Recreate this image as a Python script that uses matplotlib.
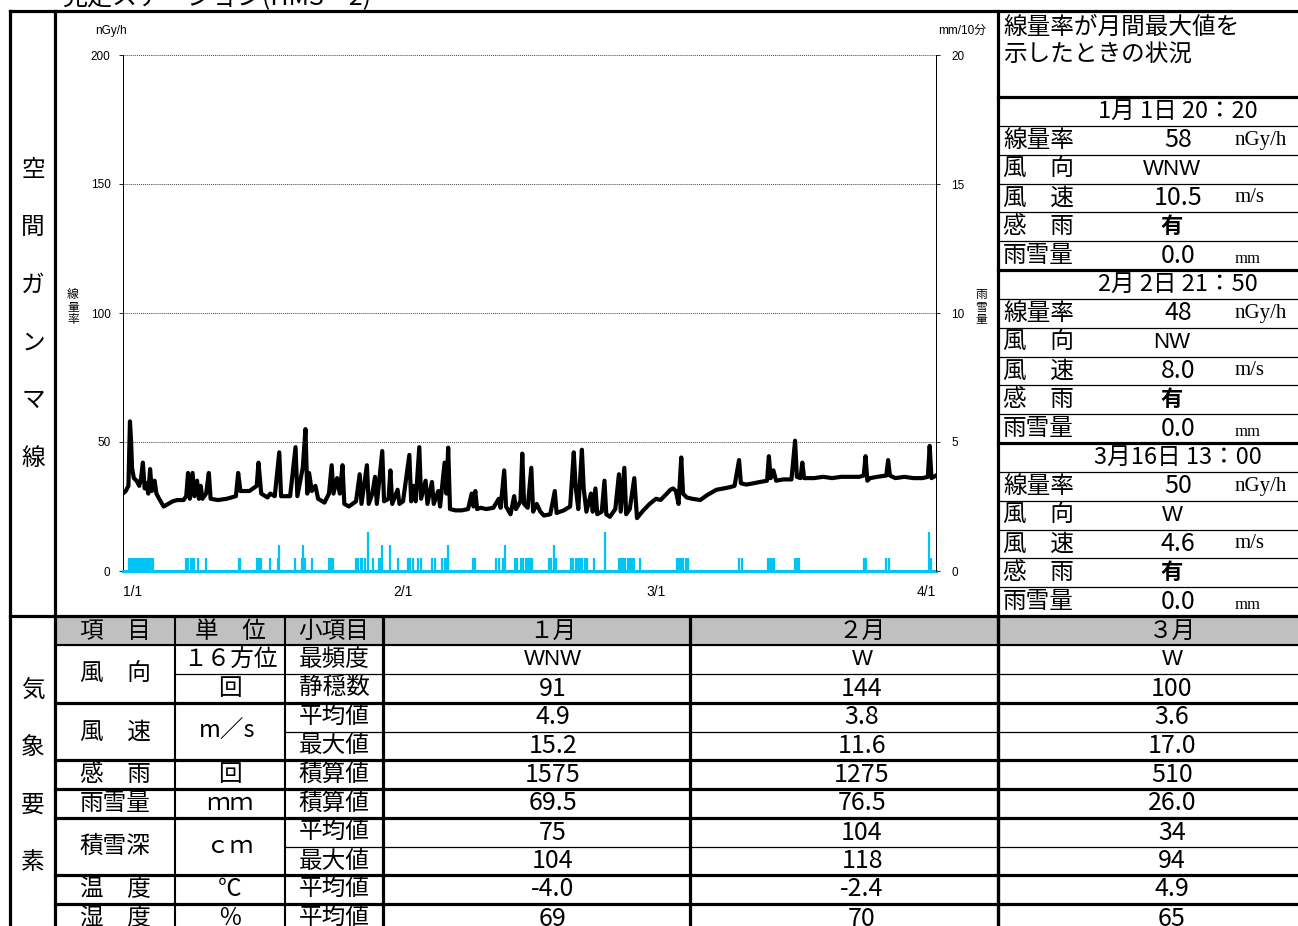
import matplotlib
matplotlib.use('Agg')
import matplotlib.pyplot as plt
from matplotlib.patches import Rectangle

plt.rcParams['font.family'] = ['Noto Sans CJK JP', 'DejaVu Sans']

W, H = 1298, 926
CYAN = '#00c4f4'
NUM = ['Liberation Sans Narrow', 'Noto Sans CJK JP']
LAT = ['Liberation Sans', 'Noto Sans CJK JP']

# 線量率 (日: 1/1 00:00 からの経過日数, nGy/h)
dose_day = [
    0.0, 0.3, 0.6, 0.77, 0.9, 1.0, 1.2, 1.5, 1.8, 2.0, 2.2, 2.4, 2.6, 2.8, 3.0, 3.2, 3.5, 3.7,
    4.0, 4.5, 5.0, 5.5, 6.0, 6.7, 7.0, 7.2, 7.4, 7.7, 7.9, 8.2, 8.4, 8.6, 8.8, 9.2, 9.5, 9.7,
    10.5, 11.5, 12.5, 12.75, 13.0, 14.0, 14.8, 15.0, 15.3, 16.0, 16.3, 16.8, 17.3, 17.5, 18.5,
    19.1, 19.3, 19.9, 20.2, 20.4, 20.6, 20.9, 21.3, 21.6, 22.3, 22.8, 23.1, 23.3, 23.7, 24.0,
    24.3, 24.5, 25.0, 25.8, 26.2, 26.4, 27.0, 27.2, 27.6, 27.9, 28.1, 28.7, 28.9, 29.4, 29.6,
    29.8, 30.4, 30.6, 31.0,
    31.7, 31.9, 32.2, 32.4, 32.8, 33.0, 33.5, 33.7, 34.2, 34.4, 34.9, 35.1, 35.6, 35.8, 36.0,
    36.2, 36.8, 37.5, 38.2, 38.6, 38.8, 39.0, 39.2, 39.6, 40.2, 41.0, 41.6, 41.8, 42.2, 42.4,
    42.9, 43.3, 43.5, 44.0, 44.2, 44.4, 44.8, 45.2, 45.4, 45.8, 46.2, 46.6, 47.3, 47.8, 48.0,
    48.8, 49.5, 49.9, 50.1, 50.4, 50.8, 51.0, 51.3, 51.8, 52.0, 52.3, 52.5, 53.0, 53.3, 53.5,
    53.9, 54.5, 54.9, 55.1, 55.5, 55.7, 56.1, 56.6, 56.9, 57.6, 58.3, 59.0,
    59.5, 60.2, 60.6, 60.9, 61.2, 61.5, 61.8, 62.0, 62.4, 63.0, 63.9, 64.7, 65.7, 66.5, 67.2,
    67.7, 68.2, 68.4, 69.0, 69.8, 70.5, 71.3, 71.5, 71.7, 72.0, 72.3, 73.1, 74.0, 74.4, 74.6,
    75.0, 75.2, 75.4, 76.5, 77.5, 78.5, 79.5, 80.5, 81.5, 82.0, 82.2, 82.4, 82.7, 83.5, 84.5,
    84.7, 84.9, 85.5, 86.5, 87.5, 88.5, 89.1, 89.3, 89.5, 90.0,
]
dose_val = [
    30, 31, 33, 58, 50, 40, 36, 35, 33, 36, 42, 32, 34, 30, 39.5, 31, 35, 30,
    28, 25, 26, 27, 27.5, 27.5, 29, 38, 28, 38, 29, 35, 28, 33, 28, 30, 38, 28,
    27.5, 28, 29, 38, 31, 31, 33, 42, 30, 28.5, 30, 29, 46, 29, 29,
    48, 29, 40, 55, 30, 38, 31, 33, 28, 26.5, 30, 41, 30, 36, 30,
    41, 26, 25, 27, 37.5, 26, 41, 26, 30, 36.5, 26, 46.5, 27, 28, 39,
    26, 31.5, 26, 27,
    45, 27, 33, 27, 48, 28, 35, 26, 34.5, 26, 31, 25, 42, 30, 47.8,
    24, 23.5, 23.5, 24, 30, 25, 31, 24, 24.5, 24, 24.5, 28, 24.5, 39, 25,
    22, 29, 24, 27, 45.5, 26, 24.5, 40, 23, 26, 23, 21.5, 22, 31, 22.5,
    23.5, 25, 46, 33, 24, 47, 32, 23, 30, 23, 32, 22, 23, 35, 22,
    21, 24, 37.5, 23, 40, 22, 24, 36, 20.5, 23.5, 26, 28,
    27.5, 30, 31.5, 32, 31, 26, 44, 30, 28.5, 28, 27.5, 29.5, 31.5, 32, 32.5,
    33, 43, 34, 33.5, 34, 34.5, 35, 44.5, 36, 39, 35, 35.5, 35.5, 50.5, 36.5,
    36, 42, 36, 36, 36.5, 36, 36.5, 36.5, 36.5, 37, 44.5, 35, 36, 36.5, 37,
    43, 37, 36, 36.5, 36, 36, 36.5, 48.5, 36, 37,
]

# 雨雪量 (日, mm/10分)
rain_day = [
    0.7, 0.9, 1.1, 1.3, 1.5, 1.7, 1.9, 2.1, 2.3, 2.5, 2.7, 2.9, 3.1, 3.3,
    7.0, 7.2, 7.5, 7.7, 7.9, 8.3, 9.2, 12.8, 12.9,
    14.8, 15.0, 15.3, 16.3, 17.2, 17.3, 19.0, 19.8, 19.9, 20.1, 20.9, 22.8, 23.0, 23.3,
    25.8, 26.0, 26.3, 26.5, 26.8, 27.1, 27.7, 28.3, 28.5, 28.7, 29.6, 30.4,
    31.6, 31.8, 32.1, 32.7, 33.0, 34.2, 34.5, 35.3, 35.6, 35.8, 36.0,
    38.7, 39.0, 41.3, 41.6, 42.1, 42.3, 43.4, 43.6, 44.1, 44.3, 44.6, 44.8, 45.1, 45.3,
    47.2, 47.4, 47.7, 47.9, 49.6, 49.8, 50.1, 50.4, 50.6, 50.8, 51.1, 51.4, 52.1, 53.4,
    54.9, 55.1, 55.4, 55.6, 55.9, 56.1, 56.4, 56.6, 57.2,
    61.3, 61.5, 61.8, 62.0, 62.3, 62.5, 68.2, 68.5, 71.4, 71.6, 71.9, 72.1,
    74.4, 74.6, 74.8, 82.0, 82.3, 84.5, 84.8, 89.2, 89.4,
]
rain_mm = [
    0.5, 0.5, 0.5, 0.5, 0.5, 0.5, 0.5, 0.5, 0.5, 0.5, 0.5, 0.5, 0.5, 0.5,
    0.5, 0.5, 0.5, 0.5, 0.5, 0.5, 0.5, 0.5, 0.5,
    0.5, 0.5, 0.5, 0.5, 0.5, 1.0, 0.5, 0.5, 1.0, 0.5, 0.5, 0.5, 0.5, 0.5,
    0.5, 0.5, 0.5, 0.5, 0.5, 1.5, 0.5, 0.5, 0.5, 1.0, 1.0, 0.5,
    0.5, 0.5, 0.5, 0.5, 0.5, 0.5, 0.5, 0.5, 0.5, 0.5, 1.0,
    0.5, 0.5, 0.5, 0.5, 0.5, 1.0, 0.5, 0.5, 0.5, 0.5, 0.5, 0.5, 0.5, 0.5,
    0.5, 0.5, 1.0, 0.5, 0.5, 0.5, 0.5, 0.5, 0.5, 0.5, 0.5, 0.5, 0.5, 1.5,
    0.5, 0.5, 0.5, 0.5, 0.5, 0.5, 0.5, 0.5, 0.5,
    0.5, 0.5, 0.5, 0.5, 0.5, 0.5, 0.5, 0.5, 0.5, 0.5, 0.5, 0.5,
    0.5, 0.5, 0.5, 0.5, 0.5, 0.5, 0.5, 1.5, 0.5,
]

x_ticks = [0, 31, 59, 90]
x_labels = ['1/1', '2/1', '3/1', '4/1']
dose_ticks = [0, 50, 100, 150, 200]
rain_ticks = [0, 5, 10, 15, 20]

# 線量率が月間最大値を示したときの状況
peak_time = ['1月 1日 20：20', '2月 2日 21：50', '3月16日 13：00']
peak_rate = ['58', '48', '50']
peak_dir = ['WNW', 'NW', 'W']
peak_speed = ['10.5', '8.0', '4.6']
peak_rain = ['有', '有', '有']
peak_precip = ['0.0', '0.0', '0.0']

# 気象要素
months = ['１月', '２月', '３月']
wind_dir = ['WNW', 'W', 'W']
calm = ['91', '144', '100']
wind_mean = ['4.9', '3.8', '3.6']
wind_max = ['15.2', '11.6', '17.0']
rain_count = ['1575', '1275', '510']
precip_sum = ['69.5', '76.5', '26.0']
snow_mean = ['75', '104', '34']
snow_max = ['104', '118', '94']
temp_mean = ['-4.0', '-2.4', '4.9']
humid_mean = ['69', '70', '65']

fig = plt.figure(figsize=(W / 100, H / 100), dpi=100)
base = fig.add_axes([0, 0, 1, 1])
base.set_xlim(0, W)
base.set_ylim(H, 0)
base.axis('off')

THICK, THIN = 2.3, 0.9


def line(x0, y0, x1, y1, lw=THIN):
    base.plot([x0, x1], [y0, y1], color='black', lw=lw, solid_capstyle='projecting')


def txt(x, y, s, size=17, ha='center', family=None, **kw):
    base.text(x, y, s, fontsize=size, ha=ha, va='center', family=family, **kw)


# タイトル (上端で切れている)
base.text(62, 5, '見走ステーション(HMS－2)', fontsize=18, va='baseline')

# 外枠
line(10, 11, W, 11, THICK)
line(10, 11, 10, H, THICK)
line(55, 11, 55, H, THICK)
line(998, 11, 998, H, THICK)
line(10, 616, W, 616, THICK)

# 左列の縦書き
for i, ch in enumerate('空間ガンマ線'):
    txt(33, 170 + i * 57.6, ch, size=17)
for i, ch in enumerate('気象要素'):
    txt(33, 690 + i * 57.5, ch, size=17)

# 右側パネル
txt(1003, 27, '線量率が月間最大値を', size=17, ha='left')
txt(1003, 55, '示したときの状況', size=17, ha='left')
top, rh = 97, (616 - 97) / 18
for i in range(18):
    y = top + i * rh
    line(998, y, W, y, THICK if i % 6 == 0 else THIN)
for k in range(3):
    y0 = top + k * 6 * rh
    c = lambda j: y0 + (j + 0.5) * rh
    txt(1178, c(0), peak_time[k], size=17)
    txt(1003, c(1), '線量率', size=17, ha='left')
    txt(1003, c(2), '風　向', size=17, ha='left')
    txt(1003, c(3), '風　速', size=17, ha='left')
    txt(1003, c(4), '感　雨', size=17, ha='left')
    txt(1003, c(5), '雨雪量', size=17, ha='left')
    txt(1178, c(1), peak_rate[k], size=18, family=NUM)
    txt(1172, c(2), peak_dir[k], size=16, family=LAT)
    txt(1178, c(3), peak_speed[k], size=18, family=NUM)
    txt(1172, c(4), peak_rain[k], size=16, weight='bold')
    txt(1178, c(5), peak_precip[k], size=18, family=NUM)
    txt(1235, c(1), 'nGy/h', size=15, ha='left', family='Liberation Serif')
    txt(1235, c(3), 'm/s', size=15, ha='left', family='Liberation Serif')
    txt(1235, c(5) + 3, 'mm', size=12, ha='left', family='Liberation Serif')

# 気象要素の表
ry = [617, 645, 674, 703, 732, 760, 789, 818, 847, 875, 904, 933]
base.add_patch(Rectangle((56, ry[0]), W - 56, ry[1] - ry[0], color='#c0c0c0', zorder=0))
cols = [55, 175, 285, 383, 690, 998]
for x in cols[1:]:
    line(x, 617, x, H, THICK if x in (383, 690, 998) else 1.5)
line(55, ry[1], W, ry[1], 1.5)
for i in range(2, 11):
    y = ry[i]
    if i in (2,):
        line(175, y, W, y, THIN)
    elif i in (4, 8):
        line(285, y, W, y, THIN)
    else:
        line(55, y, W, y, THICK)

ycen = [(ry[i] + ry[i + 1]) / 2 for i in range(11)]
hdr = ['項　目', '単　位', '小項目']
for x, s in zip([115, 230, 334], hdr):
    txt(x, ycen[0], s, size=17)
val_x = [553, 862, 1172]
for x, s in zip(val_x, months):
    txt(x, ycen[0], s, size=17)

txt(115, (ycen[1] + ycen[2]) / 2, '風　向', size=17)
txt(115, (ycen[3] + ycen[4]) / 2, '風　速', size=17)
txt(115, ycen[5], '感　雨', size=17)
txt(115, ycen[6], '雨雪量', size=17)
txt(115, (ycen[7] + ycen[8]) / 2, '積雪深', size=17)
txt(115, ycen[9], '温　度', size=17)
txt(115, ycen[10], '湿　度', size=17)

txt(230, ycen[1], '１６方位', size=17)
txt(230, ycen[2], '回', size=17)
txt(227, (ycen[3] + ycen[4]) / 2, 'm／s', size=17)
txt(230, ycen[5], '回', size=17)
txt(230, ycen[6], 'ｍｍ', size=17)
txt(230, (ycen[7] + ycen[8]) / 2, 'ｃｍ', size=17)
txt(230, ycen[9], '℃', size=17)
txt(230, ycen[10], '％', size=17)

sub = ['最頻度', '静穏数', '平均値', '最大値', '積算値', '積算値', '平均値', '最大値', '平均値', '平均値']
for i, s in enumerate(sub):
    txt(334, ycen[i + 1], s, size=17)

rows = [wind_dir, calm, wind_mean, wind_max, rain_count, precip_sum,
        snow_mean, snow_max, temp_mean, humid_mean]
for i, vals in enumerate(rows):
    for x, v in zip(val_x, vals):
        if i == 0:
            txt(x, ycen[i + 1], v, size=16, family=LAT)
        else:
            txt(x, ycen[i + 1], v, size=18, family=NUM)

# グラフ
ax = fig.add_axes([123 / W, 1 - 571 / H, 813 / W, 516 / H])
ax.set_facecolor('none')
ax.plot(dose_day, dose_val, color='black', lw=3.0, solid_joinstyle='round')
ax.set_xlim(0, 90)
ax.set_ylim(0, 200)
ax.set_yticks(dose_ticks)
ax.set_yticklabels([str(v) for v in dose_ticks], family=LAT)
ax.set_xticks(x_ticks)
ax.set_xticklabels(x_labels, family=LAT)
xl = ax.get_xticklabels()
xl[0].set_ha('left')
xl[-1].set_ha('right')
ax.yaxis.grid(True, linestyle=(0, (1, 1)), color='#444444', lw=0.7)
ax.set_axisbelow(True)
for s in ('top', 'bottom'):
    ax.spines[s].set_visible(False)
for s in ('left', 'right'):
    ax.spines[s].set_linewidth(0.7)
ax.tick_params(axis='y', direction='out', length=3, width=0.6, labelsize=8.5, pad=6)
ax.tick_params(axis='x', length=0, labelsize=10, pad=10)

ax2 = ax.twinx()
ax2.set_ylim(0, 20)
ax2.set_yticks(rain_ticks)
ax2.set_yticklabels([str(v) for v in rain_ticks], family=LAT)
ax2.vlines(rain_day, 0, rain_mm, color=CYAN, lw=1.6)
ax2.plot([0, 90], [0, 0], color=CYAN, lw=2.2, clip_on=False)
for s in ('top', 'bottom', 'left'):
    ax2.spines[s].set_visible(False)
ax2.spines['right'].set_linewidth(0.7)
ax2.tick_params(axis='y', direction='out', length=3, width=0.6, labelsize=8.5, pad=8)

base.text(95, 31, 'nGy/h', fontsize=8.5, va='center', family=LAT)
base.text(938, 31, 'mm/10分', fontsize=8.5, va='center', family=LAT)
base.text(73, 307, '線\n量\n率', fontsize=8.5, ha='center', va='center', linespacing=0.95)
base.text(981, 307, '雨\n雪\n量', fontsize=8.5, ha='center', va='center', linespacing=0.95)

fig.savefig('out.png', dpi=100)
